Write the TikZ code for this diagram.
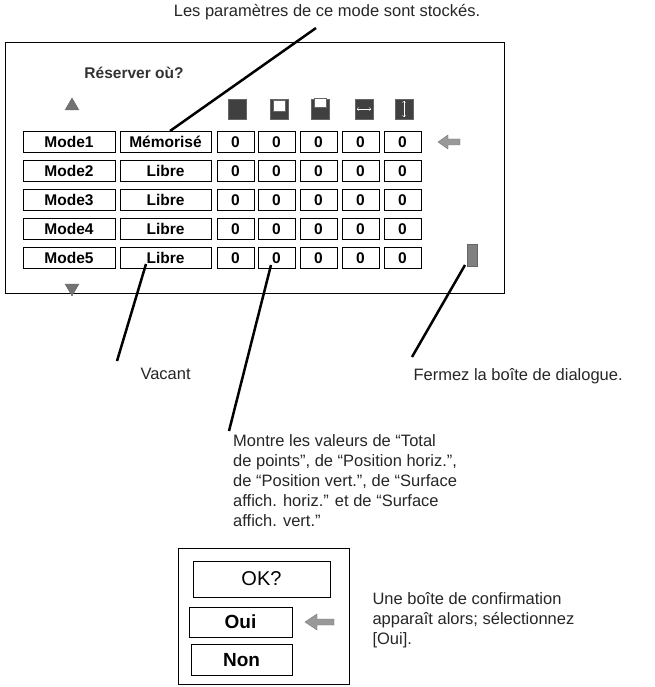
\documentclass[tikz,border=0pt]{standalone}
\usepackage{fontspec}
\setmainfont{Liberation Sans}
\usetikzlibrary{shapes.geometric}
\begin{document}
\begin{tikzpicture}[x=1pt,y=-1pt,
 note/.style={font=\fontsize{16.5}{20}\selectfont,text=black!85},
 cell/.style={draw,line width=0.8pt,minimum height=21pt,inner sep=0pt,font=\bfseries\fontsize{15.5}{17}\selectfont},
 lead/.style={line width=2.5pt},
 icon/.style={draw=black!60,fill=black!75,minimum width=18pt,minimum height=20pt,inner sep=0pt},
 larrow/.style={fill=black!40,draw=black!55}]
\useasboundingbox (0,0) rectangle (654,687);
\node[note] (top) at (327,12) {Les paramètres de ce mode sont stockés.};
\node[draw,line width=1pt,minimum width=499pt,minimum height=250pt,inner sep=0pt] (main) at (254.5,168) {};
\node[font=\bfseries\fontsize{15.5}{17}\selectfont,text=black!80] (title) at (134,73) {Réserver où?};
\node[draw=black!60,fill=black!55,regular polygon,regular polygon sides=3,minimum size=16pt,inner sep=0pt] (up) at (72,106) {};
\node[draw=black!60,fill=black!55,regular polygon,regular polygon sides=3,shape border rotate=180,minimum size=16pt,inner sep=0pt] (dn) at (72,288) {};
\foreach \x/\n in {237/i1,279/i2,320/i3,364/i4,404/i5}
  \node[icon] (\n) at (\x,109) {};
\node[fill=white,minimum width=12pt,minimum height=11pt,draw=black!60] at (279,106) {};
\node[fill=white,minimum width=12pt,minimum height=9pt,draw=black!60] at (320,103) {};
\draw[white,<->] (357,109) -- (371,109);
\draw[white,<->] (404,101) -- (404,117);
\foreach \r/\y/\m/\s in {1/142/Mode1/Mémorisé,2/171/Mode2/Libre,3/200/Mode3/Libre,4/229/Mode4/Libre,5/258/Mode5/Libre}{
  \node[cell,minimum width=92pt] (m\r) at (69,\y) {\m};
  \node[cell,minimum width=91pt] (s\r) at (165.5,\y) {\s};
  \foreach \c/\x in {1/235.5,2/276.5,3/318.5,4/360.5,5/402.5}
    \node[cell,minimum width=37pt] (v\r\c) at (\x,\y) {0};
}
\fill[larrow] (438,142) -- (448,135) -- (448,139) -- (460,139) -- (460,145) -- (448,145) -- (448,149) -- cycle;
\node[draw=black!60,fill=black!50,minimum width=10pt,minimum height=22pt,inner sep=0pt] (door) at (472,255) {};
\node[note,anchor=west] (vac) at (137,374) {Vacant};
\node[note,anchor=west] (ferm) at (410,376) {Fermez la boîte de dialogue.};
\node[note,anchor=north west,align=left,inner sep=0pt] (mont) at (233,434) {Montre les valeurs de “Total\\de points”, de “Position horiz.”,\\de “Position vert.”, de “Surface\\affich. horiz.” et de “Surface\\affich. vert.”};
\draw[lead] (316,28) -- (170,131);
\draw[lead] (146,264) -- (117,361);
\draw[lead] (271,265) -- (229,431);
\draw[lead] (465,265) -- (412,357);
\node[draw,line width=0.8pt,minimum width=171pt,minimum height=136pt,inner sep=0pt] (conf) at (263.5,616) {};
\node[cell,minimum width=137pt,minimum height=36pt,font=\fontsize{20}{22}\selectfont] (ok) at (261.5,579) {OK?};
\node[cell,minimum width=103pt,minimum height=30pt,font=\bfseries\fontsize{19}{22}\selectfont] (oui) at (240.5,622) {Oui};
\node[cell,minimum width=101pt,minimum height=31pt,font=\bfseries\fontsize{19}{22}\selectfont] (non) at (241.5,660) {Non};
\fill[larrow] (305,622) -- (317,614) -- (317,619) -- (334,619) -- (334,625) -- (317,625) -- (317,630) -- cycle;
\node[note,anchor=west,align=left] (une) at (369,620) {Une boîte de confirmation\\apparaît alors; sélectionnez\\{}[Oui].};
\end{tikzpicture}
\end{document}
